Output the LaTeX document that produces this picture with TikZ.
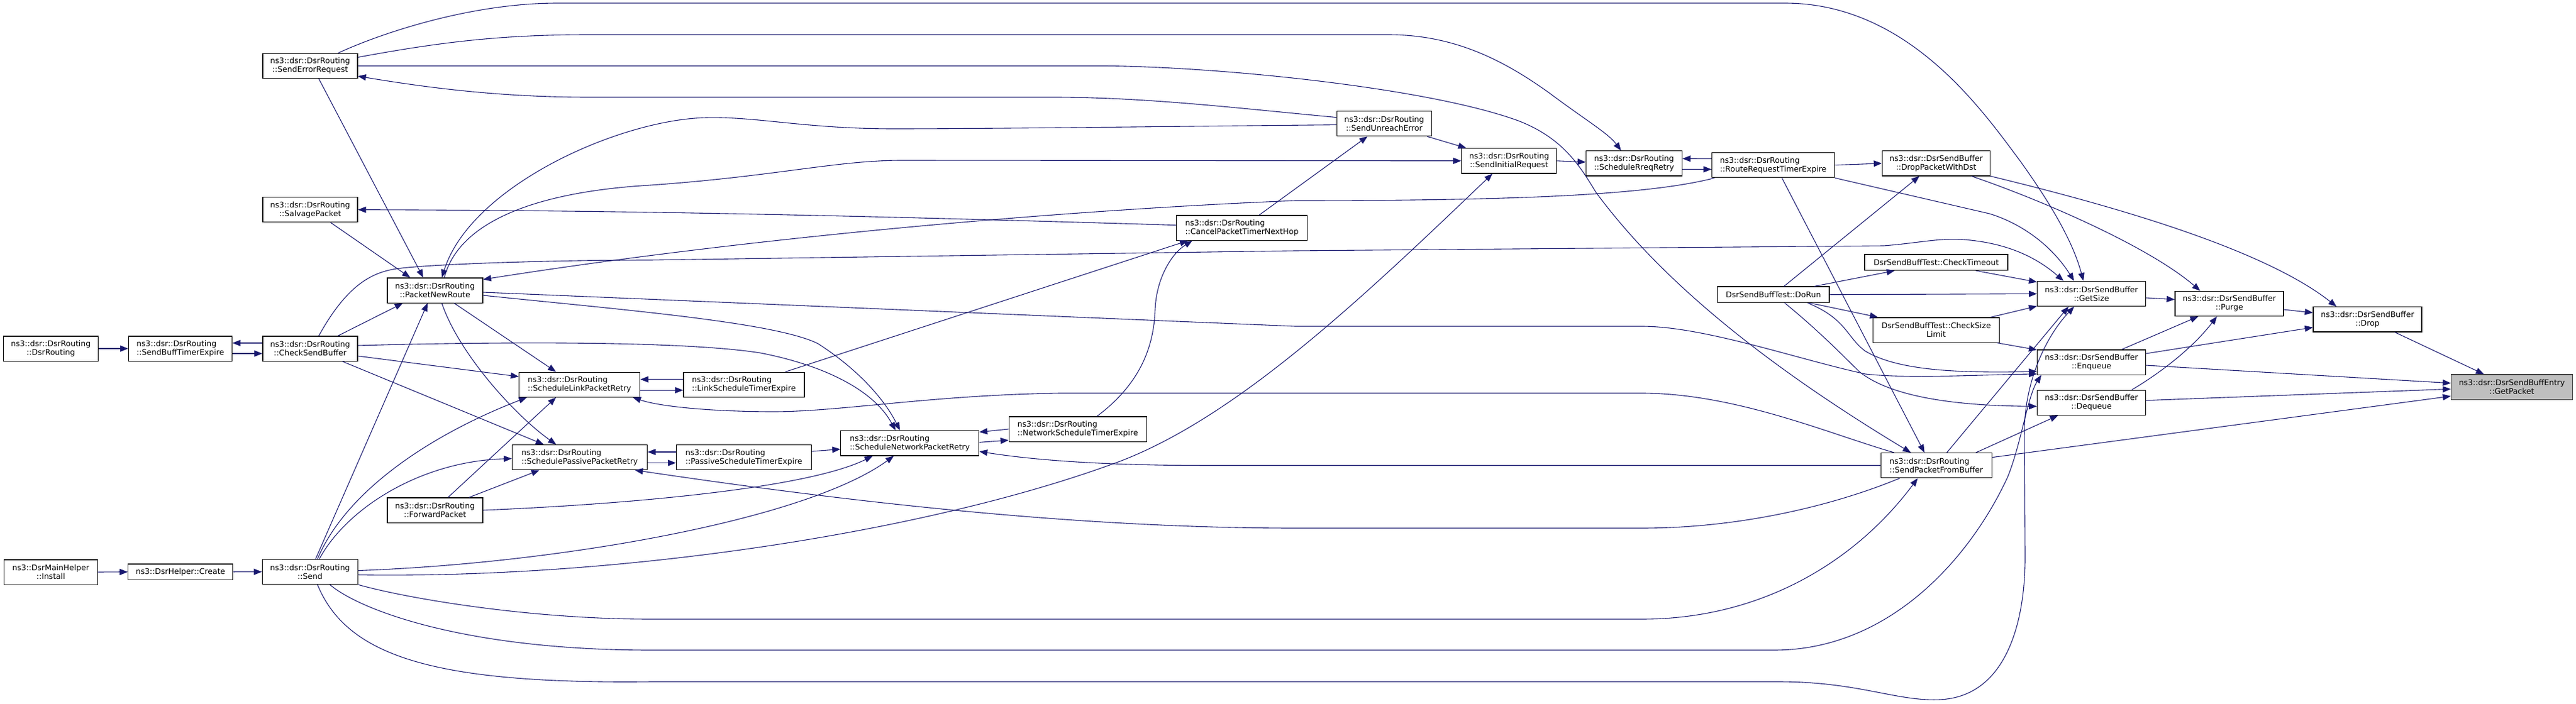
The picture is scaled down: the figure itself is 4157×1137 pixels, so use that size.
\documentclass[tikz,border=0pt]{standalone}
\usepackage{fontspec}
\newfontfamily\dv{DejaVu Sans}
\usetikzlibrary{arrows.meta}
\definecolor{edgec}{HTML}{191970}
\definecolor{rootfill}{HTML}{BFBFBF}
\tikzset{
  fn/.style={draw=black, line width=1.2pt, rectangle, minimum height=40.2pt, inner sep=3pt,
    font=\dv\fontsize{12.6pt}{14pt}\selectfont, align=center, fill=white},
  fnl/.style={fn, align=left},
  fns/.style={fn, minimum height=25.5pt},
  edg/.style={draw=edgec, line width=1.1pt, -{Triangle[length=13pt,width=10pt]}},
}
\begin{document}
\begin{tikzpicture}[x=1pt,y=-1pt]
\fill[white] (0,0) rectangle (4157,1137);
\useasboundingbox (0,0) rectangle (4157,1137);

% ---------------- nodes ----------------
\node[fn, minimum width=151pt] (install) at (82,924) {ns3::DsrMainHelper\\::Install};
\node[fns, minimum width=169pt] (create) at (291.3,923.7) {ns3::DsrHelper::Create};
\node[fn, minimum width=154pt] (send) at (500.3,923.5) {ns3::dsr::DsrRouting\\::Send};
\node[fn, minimum width=153pt] (dsrr) at (82,563) {ns3::dsr::DsrRouting\\::DsrRouting};
\node[fnl, minimum width=167pt] (sbte) at (291,563) {ns3::dsr::DsrRouting\\::SendBuffTimerExpire};
\node[fn, minimum width=153pt] (csb) at (500.5,563) {ns3::dsr::DsrRouting\\::CheckSendBuffer};
\node[fn, minimum width=153pt] (ser) at (500.5,106.5) {ns3::dsr::DsrRouting\\::SendErrorRequest};
\node[fn, minimum width=153pt] (salvage) at (500.5,338.7) {ns3::dsr::DsrRouting\\::SalvagePacket};
\node[fn, minimum width=154pt] (pnr) at (702,469) {ns3::dsr::DsrRouting\\::PacketNewRoute};
\node[fn, minimum width=154pt] (fwd) at (702,824) {ns3::dsr::DsrRouting\\::ForwardPacket};
\node[fnl, minimum width=195pt] (slpr) at (935.2,621.2) {ns3::dsr::DsrRouting\\::ScheduleLinkPacketRetry};
\node[fnl, minimum width=218pt] (sppr) at (935.5,738.6) {ns3::dsr::DsrRouting\\::SchedulePassivePacketRetry};
\node[fnl, minimum width=195pt] (lste) at (1200.4,621.2) {ns3::dsr::DsrRouting\\::LinkScheduleTimerExpire};
\node[fnl, minimum width=218pt] (pste) at (1200.4,738.6) {ns3::dsr::DsrRouting\\::PassiveScheduleTimerExpire};
\node[fnl, minimum width=223pt] (snpr) at (1468.2,715.8) {ns3::dsr::DsrRouting\\::ScheduleNetworkPacketRetry};
\node[fnl, minimum width=222pt] (nste) at (1739.2,693) {ns3::dsr::DsrRouting\\::NetworkScheduleTimerExpire};
\node[fnl, minimum width=211pt] (cptnh) at (2004,368) {ns3::dsr::DsrRouting\\::CancelPacketTimerNextHop};
\node[fn, minimum width=153pt] (sue) at (2233.7,199.6) {ns3::dsr::DsrRouting\\::SendUnreachError};
\node[fn, minimum width=153pt] (sir) at (2435.3,259.8) {ns3::dsr::DsrRouting\\::SendInitialRequest};
\node[fn, minimum width=155pt] (srr) at (2636.9,263.8) {ns3::dsr::DsrRouting\\::ScheduleRreqRetry};
\node[fnl, minimum width=198pt] (rrte) at (2861.5,266.7) {ns3::dsr::DsrRouting\\::RouteRequestTimerExpire};
\node[fn, minimum width=174pt] (dpwd) at (3124.4,263.8) {ns3::dsr::DsrSendBuffer\\::DropPacketWithDst};
\node[fns, minimum width=231pt] (checktimeout) at (3124.5,423.8) {DsrSendBuffTest::CheckTimeout};
\node[fns, minimum width=180.4pt] (dorun) at (2861.8,475.8) {DsrSendBuffTest::DoRun};
\node[fn, minimum width=204pt] (csl) at (3124.5,533) {DsrSendBuffTest::CheckSize\\Limit};
\node[fnl, minimum width=179pt] (spfb) at (3124.6,751.7) {ns3::dsr::DsrRouting\\::SendPacketFromBuffer};
\node[fn, minimum width=175pt] (getsize) at (3375.1,474.5) {ns3::dsr::DsrSendBuffer\\::GetSize};
\node[fn, minimum width=175pt] (enqueue) at (3375.1,585) {ns3::dsr::DsrSendBuffer\\::Enqueue};
\node[fn, minimum width=175pt] (dequeue) at (3375.1,650.3) {ns3::dsr::DsrSendBuffer\\::Dequeue};
\node[fn, minimum width=175pt] (purge) at (3597.5,490.4) {ns3::dsr::DsrSendBuffer\\::Purge};
\node[fn, minimum width=175pt] (drop) at (3820.5,515.8) {ns3::dsr::DsrSendBuffer\\::Drop};
\node[fn, minimum width=196pt, fill=rootfill, draw=black!75] (getpacket) at (4053.5,625.1) {ns3::dsr::DsrSendBuffEntry\\::GetPacket};

% ---------------- edges ----------------
% left chain
\draw[edg] (dsrr.east) -- (sbte.west);
\draw[edg] ([yshift=9pt]csb.west) -- ([yshift=9pt]sbte.east);
\draw[edg] ([yshift=-8pt]sbte.east) -- ([yshift=-8pt]csb.west);
\draw[edg] (install.east) -- (create.west);
\draw[edg] (create.east) -- (send.west);

% Send
\draw[edg] ([xshift=9pt]send.north) -- ([xshift=-12pt]pnr.south);
\draw[edg] ([xshift=12pt]send.north) .. controls (560,790) and (700,700) .. ([xshift=-85pt]slpr.south);
\draw[edg] ([xshift=15pt]send.north) .. controls (560,820) and (680,745) .. ([yshift=-2pt]sppr.west);
\draw[edg] ([yshift=2pt]send.east) .. controls (900,910) and (1300,840) .. ([xshift=-26pt]snpr.south);
\draw[edg] ([yshift=-5pt]send.east) .. controls (1000,935) and (1500,860) .. (1810,744) .. controls (2000,670) and (2200,480) .. ([xshift=-27pt]sir.south);
\draw[edg] (send.south east) .. controls (650,965) and (850,1000) .. (1050,1000) -- (2649,1000) .. controls (2850,1000) and (3000,900) .. ([xshift=-30pt]spfb.south);
\draw[edg] ([xshift=32pt]send.south) .. controls (580,985) and (750,1050) .. (1050,1050) -- (2863,1050) .. controls (3050,1050) and (3180,900) .. (3240,770) .. controls (3262,715) and (3272,640) .. ([xshift=-81pt]enqueue.south);
\draw[edg] ([xshift=12pt]send.south) .. controls (560,1060) and (700,1105) .. (1050,1101) -- (2870,1101) .. controls (3000,1101) and (3060,1133) .. (3130,1130) .. controls (3240,1125) and (3268,1000) .. (3268,900) -- (3267,700) .. controls (3266,620) and (3300,545) .. ([xshift=-28pt]getsize.south);

% CheckSendBuffer
\draw[edg] ([xshift=45pt]csb.north) -- ([xshift=-52pt]pnr.south);
\draw[edg] ([xshift=14pt]csb.north) .. controls (560,460) and (600,440) .. (640,434) .. controls (700,426) and (900,420) .. (1050,420) -- (2090,405) -- (3040,397) .. controls (3100,392) and (3130,384) .. (3170,387) .. controls (3230,392) and (3280,410) .. ([xshift=-45pt]getsize.north);
\draw[edg] ([yshift=-12pt]csb.east) -- ([yshift=13pt]slpr.west);
\draw[edg] ([xshift=52pt]csb.south) -- ([xshift=-58pt]sppr.north);
\draw[edg] ([yshift=5pt]csb.east) .. controls (800,552) and (1100,550) .. (1227,570) .. controls (1330,590) and (1410,630) .. ([xshift=-23pt]snpr.north);

% SendErrorRequest
\draw[edg] ([xshift=14pt]ser.south) -- ([xshift=-19pt]pnr.north);
\draw[edg] ([xshift=45pt]ser.north) .. controls (600,60) and (750,5) .. (900,5) -- (2880,5) .. controls (3080,5) and (3200,180) .. (3260,260) .. controls (3310,330) and (3345,390) .. ([xshift=-13pt]getsize.north);
\draw[edg] ([yshift=14pt]ser.east) .. controls (700,70) and (800,56) .. (950,56) -- (2240,56) .. controls (2350,56) and (2430,100) .. (2500,150) .. controls (2560,195) and (2595,215) .. ([xshift=-21pt]srr.north);
\draw[edg] (ser.east) -- (1776,106.5) .. controls (1950,106.5) and (2300,140) .. (2450,195) .. controls (2520,222) and (2548,265) .. (2575,310) .. controls (2700,480) and (2900,620) .. ([xshift=-41pt]spfb.north);

% SalvagePacket
\draw[edg] ([xshift=33pt]salvage.south) -- ([xshift=-40pt]pnr.north);

% PacketNewRoute
\draw[edg] ([xshift=31pt]pnr.south) -- ([xshift=-38pt]slpr.north);
\draw[edg] ([xshift=11pt]pnr.south) .. controls (740,570) and (830,670) .. ([xshift=-38pt]sppr.north);
\draw[edg] ([yshift=-8pt]pnr.east) .. controls (1000,500) and (1250,520) .. (1320,555) .. controls (1390,600) and (1430,650) .. ([xshift=-16pt]snpr.north);
\draw[edg] ([xshift=15pt]pnr.north) .. controls (740,360) and (860,310) .. (1050,299) .. controls (1250,285) and (1350,259) .. (1455,259) -- (sir.west);
\draw[edg] ([yshift=-3pt]pnr.east) -- (2090,527) -- (2649,527) .. controls (2750,527) and (2900,580) .. (3010,604) .. controls (3080,612) and (3200,605) .. ([yshift=-19pt]enqueue.west);

% RouteRequestTimerExpire -> PacketNewRoute
\draw[edg] ([xshift=5pt]rrte.south west) .. controls (2650,318) and (2400,324) .. (2090,324) .. controls (1700,340) and (1200,385) .. ([yshift=-3pt]pnr.north east);

% SendUnreachError
\draw[edg] ([yshift=10pt]sue.west) .. controls (2000,175) and (1850,157) .. (1700,157) -- (950,157) .. controls (800,157) and (680,140) .. ([yshift=-16.5pt]ser.east);
\draw[edg] ([yshift=-2pt]sue.west) .. controls (1900,204) and (1600,208) .. (1442,208) .. controls (1300,208) and (1220,188) .. (1140,190) .. controls (1000,193) and (760,300) .. ([xshift=11pt]pnr.north);
\draw[edg] ([xshift=-8pt]sue.south east) -- ([xshift=8pt]sir.north west);

% CancelPacketTimerNextHop
\draw[edg] ([xshift=28pt]cptnh.north) -- ([xshift=-27pt]sue.south);
\draw[edg] ([yshift=4.4pt]cptnh.west) .. controls (1500,352) and (1100,340) .. (salvage.east);
\draw[edg] ([xshift=67pt]lste.north) -- ([xshift=-87pt]cptnh.south);
\draw[edg] ([xshift=31pt]nste.north) .. controls (1840,620) and (1862,560) .. (1864,500) .. controls (1866,450) and (1890,410) .. ([xshift=-80pt]cptnh.south);

% timer pairs
\draw[edg] ([yshift=8.5pt]lste.west) -- ([yshift=8.5pt]slpr.east);
\draw[edg] ([yshift=-9pt]slpr.east) -- ([yshift=-9pt]lste.west);
\draw[edg] ([yshift=8.6pt]pste.west) -- ([yshift=8.6pt]sppr.east);
\draw[edg] ([yshift=-9pt]sppr.east) -- ([yshift=-9pt]pste.west);
\draw[edg] ([yshift=9.6pt]pste.east) -- ([yshift=-9.6pt]snpr.west);
\draw[edg] (nste.west) -- ([yshift=18pt]snpr.east);
\draw[edg] ([yshift=1.4pt]snpr.east) -- ([yshift=-18pt]nste.west);

% ForwardPacket
\draw[edg] (fwd.east) .. controls (1000,815) and (1300,790) .. ([xshift=-60pt]snpr.south);
\draw[edg] ([xshift=21pt]fwd.north) -- ([xshift=-38pt]slpr.south);
\draw[edg] ([xshift=55pt]fwd.north) -- ([xshift=-65pt]sppr.south);

% SendPacketFromBuffer
\draw[edg] ([xshift=-68pt]spfb.north) .. controls (2950,700) and (2800,635) .. (2649,635) -- (1710,635) .. controls (1500,638) and (1350,666) .. (1240,665) .. controls (1130,664) and (1060,655) .. ([xshift=86pt]slpr.south);
\draw[edg] ([xshift=-59pt]spfb.south) .. controls (2950,820) and (2800,853) .. (2649,853) -- (2090,853) .. controls (1700,853) and (1300,800) .. ([xshift=89pt]sppr.south);
\draw[edg] (spfb.west) -- (1944,751.7) .. controls (1800,751.7) and (1680,745) .. ([yshift=-13.3pt]snpr.east);
\draw[edg] ([xshift=17pt]spfb.north) -- ([xshift=-37pt]getsize.south);
\draw[edg] ([xshift=64pt]spfb.north) -- ([xshift=-54pt]dequeue.south);
\draw[edg] ([yshift=13pt]spfb.east) -- ([yshift=-14.7pt]getpacket.west);

% Rreq chain
\draw[edg] ([yshift=-9.5pt]srr.east) -- ([yshift=-6.8pt]rrte.west);
\draw[edg] ([yshift=10.3pt]rrte.west) -- ([yshift=7.6pt]srr.east);
\draw[edg] (sir.east) -- ([yshift=2pt]srr.west);
\draw[edg] (rrte.east) -- (dpwd.west);
\draw[edg] (rrte.south east) -- (3210,345) .. controls (3260,360) and (3310,395) .. ([xshift=-28pt]getsize.north);
\draw[edg] ([xshift=14pt]rrte.south) -- ([xshift=-19pt]spfb.north);

% DoRun
\draw[edg] ([xshift=17pt]dorun.north) -- ([xshift=-27pt]dpwd.south);
\draw[edg] ([xshift=66pt]dorun.north) -- ([xshift=-67pt]checktimeout.south);
\draw[edg] (dorun.east) -- (getsize.west);
\draw[edg] ([xshift=58pt]dorun.south) -- ([xshift=-94pt]csl.north);
\draw[edg] ([xshift=55pt]dorun.south) .. controls (2980,515) and (2980,545) .. (3010,567) .. controls (3060,597) and (3150,603) .. ([yshift=-15pt]enqueue.west);
\draw[edg] ([xshift=18pt]dorun.south) .. controls (2930,530) and (2970,570) .. (3000,600) .. controls (3040,632) and (3120,655) .. ([yshift=-6pt]dequeue.west);

% tests
\draw[edg] ([xshift=64pt]checktimeout.south) -- ([yshift=19pt]getsize.west);
\draw[edg] ([xshift=88pt]csl.north) -- ([yshift=-20pt]getsize.west);
\draw[edg] ([xshift=98pt]csl.south) -- ([yshift=20pt]enqueue.west);

% send buffer cluster
\draw[edg] ([xshift=57pt]dpwd.south) .. controls (3300,325) and (3470,400) .. ([xshift=-47pt]purge.north);
\draw[edg] (dpwd.south east) .. controls (3400,330) and (3650,400) .. ([xshift=-50pt]drop.north);
\draw[edg] ([yshift=-6.5pt]getsize.east) -- ([yshift=6.7pt]purge.west);
\draw[edg] ([yshift=-9.6pt]purge.east) -- ([yshift=10.8pt]drop.west);
\draw[edg] ([xshift=49pt]enqueue.north) -- ([xshift=-50pt]purge.south);
\draw[edg] ([yshift=14pt]enqueue.east) -- ([yshift=-13pt]drop.west);
\draw[edg] ([xshift=65pt]dequeue.north) .. controls (3490,600) and (3540,560) .. ([xshift=-20pt]purge.south);
\draw[edg] ([xshift=44pt]drop.south) -- ([xshift=-45pt]getpacket.north);
\draw[edg] ([yshift=-5pt]enqueue.east) -- ([yshift=6.3pt]getpacket.west);
\draw[edg] ([yshift=3.6pt]dequeue.east) -- ([yshift=-3.2pt]getpacket.west);
\end{tikzpicture}
\end{document}
